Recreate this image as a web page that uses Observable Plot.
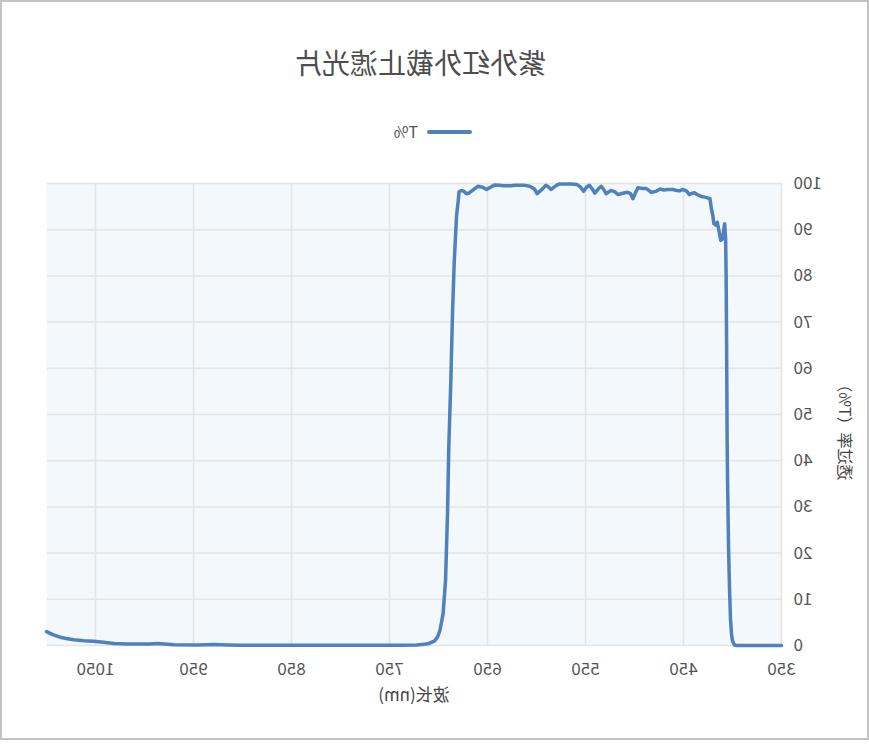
<!DOCTYPE html>
<html><head><meta charset="utf-8">
<script src="https://cdn.jsdelivr.net/npm/d3@7"></script>
<script src="https://cdn.jsdelivr.net/npm/@observablehq/plot@0.6"></script>
<style>
html,body{margin:0;padding:0;background:#fff;}
#wrap{position:relative;width:869px;height:752px;transform:scaleX(-1);transform-origin:50% 50%;font-family:"Noto Sans CJK SC","Noto Sans",sans-serif;overflow:hidden;}
#frame{position:absolute;left:0;top:0;width:869px;height:740px;box-sizing:border-box;border:2px solid #c3c3c3;}
#title{position:absolute;left:0;width:898px;top:44px;line-height:36px;font-size:28px;text-align:center;color:#4d4d4d;}
#legline{position:absolute;left:397px;top:130px;width:45px;height:4px;border-radius:2px;background:#4f81bd;}
#legtext{position:absolute;left:451px;top:121px;font-size:16px;line-height:20px;color:#555;}
#chart{position:absolute;left:0;top:160px;}
</style></head>
<body>
<div id="wrap">
  <div id="frame"></div>
  <div id="title"></div>
  <div id="legline"></div>
  <div id="legtext"></div>
  <div id="chart"></div>
</div>
<script>
const title = "紫外红外截止滤光片";
const seriesName = "T%";
const xLabel = "波长(nm)";
const yLabel = "透过率（T%）";
const xTicks = [350, 450, 550, 650, 750, 850, 950, 1050];
const yTicks = [0, 10, 20, 30, 40, 50, 60, 70, 80, 90, 100];

const wavelength = [350, 380, 396, 398, 400, 401, 402, 403, 404, 405, 405.5, 406, 406.5, 407, 408, 409, 410, 412, 414, 415.5, 417, 419, 420, 421.5, 423, 427, 432, 436, 439, 442, 444, 447, 451, 454, 457, 461, 466, 470, 474, 478, 483, 486, 488, 492, 496.5, 499, 501.6, 504, 507, 512, 517, 520, 524, 526, 529, 531, 534, 537, 540.5, 543, 546, 549, 552, 555, 559, 565, 570, 577, 581, 585, 588, 590.5, 594, 599.4, 602, 607, 612, 617, 622, 626, 630, 634, 638, 642.6, 646, 651, 655, 659.6, 663, 666, 669, 671.5, 674, 676.5, 679, 680, 681.6, 684, 685.7, 687.4, 689.5, 690.8, 692.8, 695.3, 698.6, 701, 704, 709, 715, 722, 740, 760, 800, 850, 902, 915, 930, 945, 970, 980, 987, 995, 1004, 1018, 1031, 1042, 1052, 1062, 1072, 1080, 1086, 1093, 1100];
const transmittance = [0, 0, 0, 0.1, 1.0, 2.5, 5.5, 12, 21, 35, 45, 65, 80, 88, 91.3, 90, 88, 87.7, 90, 91.6, 91, 91.3, 93, 94.5, 96.7, 97, 97.2, 97.6, 98.0, 97.8, 97.6, 98.4, 98.7, 98.4, 98.5, 98.7, 98.7, 98.6, 98.8, 98.3, 98.1, 98.6, 98.9, 98.9, 99.1, 98.0, 96.7, 97.8, 98.1, 97.9, 97.6, 98.2, 98.5, 98.2, 97.8, 98.6, 99.4, 98.8, 97.9, 98.8, 99.6, 99.2, 98.3, 99.2, 99.8, 99.9, 99.9, 99.9, 99.4, 98.7, 99.3, 99.6, 98.8, 97.8, 98.8, 99.4, 99.6, 99.6, 99.6, 99.5, 99.5, 99.5, 99.6, 99.7, 99.3, 98.7, 99.2, 99.4, 98.9, 98.4, 97.9, 97.8, 98.3, 98.5, 98.2, 96, 93, 82.7, 71.9, 57.4, 42.9, 28.6, 14.1, 6.9, 3.2, 1.8, 1.0, 0.5, 0.25, 0.1, 0.05, 0.05, 0.05, 0.05, 0.05, 0.1, 0.2, 0.1, 0.15, 0.3, 0.43, 0.35, 0.3, 0.35, 0.45, 0.7, 0.93, 1.05, 1.23, 1.5, 1.8, 2.3, 3.0];

const data = wavelength.map((w, i) => ({w, t: transmittance[i]}));

document.getElementById("title").textContent = title;
document.getElementById("legtext").textContent = seriesName;

const font = '"Noto Sans CJK SC","Noto Sans",sans-serif';
const chart = Plot.plot({
  width: 869, height: 570,
  marginLeft: 87, marginRight: 47, marginTop: 23, marginBottom: 85,
  style: {fontFamily: font, fontSize: "17px", color: "#555", background: "transparent", overflow: "visible"},
  x: {domain: [350, 1100]},
  y: {domain: [0, 100]},
  marks: [
    Plot.frame({fill: "#f3f8fc", stroke: null}),
    Plot.gridX(xTicks, {stroke: "#e4e4e4", strokeOpacity: 1, strokeWidth: 1.5}),
    Plot.gridY(yTicks, {stroke: "#e4e4e4", strokeOpacity: 1, strokeWidth: 1.5}),
    Plot.axisX(xTicks, {tickSize: 0, tickPadding: 17, label: null, fontSize: 17, fill: "#555", tickFormat: d => String(d)}),
    Plot.axisY(yTicks, {tickSize: 0, tickPadding: 12, label: null, fontSize: 17, fill: "#555"}),
    Plot.line(data, {x: "w", y: "t", stroke: "#4f81bd", strokeWidth: 3.5, strokeLinejoin: "round"}),
    Plot.text([xLabel], {frameAnchor: "bottom", dy: 55, fontSize: 17, fill: "#444"}),
    Plot.text([yLabel], {x: () => 350, y: () => 47, dx: -63, rotate: -90, fontSize: 16, fill: "#444"})
  ]
});
document.getElementById("chart").appendChild(chart);
</script>
</body></html>
